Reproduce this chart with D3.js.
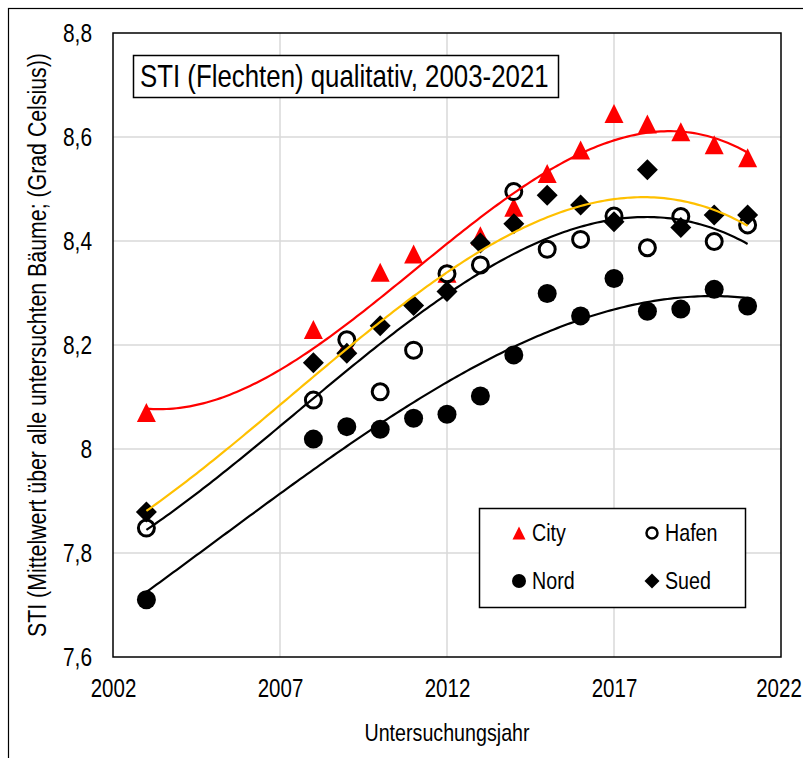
<!DOCTYPE html>
<html>
<head>
<meta charset="utf-8">
<script src="https://cdn.jsdelivr.net/npm/d3@7"></script>
<style>
    body { margin: 0; background: #fff; }
    text { font-family: "Liberation Sans", Arial, sans-serif; fill: #000; }
</style>
</head>
<body>
<script>
// STI (Flechten) qualitativ, 2003-2021 - scatter with polynomial trend lines

var years = [2003, 2008, 2009, 2010, 2011, 2012, 2013, 2014, 2015, 2016, 2017, 2018, 2019, 2020, 2021];
var city  = [8.07, 8.23, 8.20, 8.34, 8.375, 8.338, 8.41, 8.465, 8.53, 8.575, 8.645, 8.625, 8.61, 8.585, 8.56];
var hafen = [7.848, 8.094, 8.21, 8.11, 8.19, 8.337, 8.354, 8.495, 8.384, 8.403, 8.448, 8.387, 8.447, 8.399, 8.431];
var nord  = [7.71, 8.019, 8.043, 8.038, 8.059, 8.067, 8.102, 8.181, 8.299, 8.256, 8.328, 8.265, 8.269, 8.307, 8.275];
var sued  = [7.879, 8.166, 8.184, 8.237, 8.276, 8.303, 8.396, 8.433, 8.488, 8.469, 8.437, 8.537, 8.426, 8.45, 8.45];

var xTicks = [2002, 2007, 2012, 2017, 2022];
var yTicks = [7.6, 7.8, 8.0, 8.2, 8.4, 8.6, 8.8];
var yTickLabels = ["7,6", "7,8", "8", "8,2", "8,4", "8,6", "8,8"];

var title = "STI (Flechten) qualitativ, 2003-2021";
var xTitle = "Untersuchungsjahr";
var yTitle = "STI (Mittelwert über alle untersuchten Bäume; (Grad Celsius))";

// narrow look (like Arial Narrow) by squeezing the text horizontally
var narrow = 0.82;

// least squares polynomial (order 3), like the excel trend line
function polyFit(xs, ys, order) {
    var n = order + 1;
    var A = [], b = [];
    for (var i = 0; i < n; i++) {
        A.push(new Array(n).fill(0));
        b.push(0);
    }
    xs.forEach(function (x, k) {
        var t = (x - 2012) / 10;
        for (var i = 0; i < n; i++) {
            for (var j = 0; j < n; j++) A[i][j] += Math.pow(t, i + j);
            b[i] += ys[k] * Math.pow(t, i);
        }
    });
    // gaussian elimination
    for (var c = 0; c < n; c++) {
        var p = c;
        for (var r = c + 1; r < n; r++) if (Math.abs(A[r][c]) > Math.abs(A[p][c])) p = r;
        var tmp = A[c]; A[c] = A[p]; A[p] = tmp;
        var tb = b[c]; b[c] = b[p]; b[p] = tb;
        for (var r2 = c + 1; r2 < n; r2++) {
            var f = A[r2][c] / A[c][c];
            for (var j2 = c; j2 < n; j2++) A[r2][j2] -= f * A[c][j2];
            b[r2] -= f * b[c];
        }
    }
    var coef = new Array(n).fill(0);
    for (var r3 = n - 1; r3 >= 0; r3--) {
        var s = b[r3];
        for (var j3 = r3 + 1; j3 < n; j3++) s -= A[r3][j3] * coef[j3];
        coef[r3] = s / A[r3][r3];
    }
    return function (x) {
        var t = (x - 2012) / 10, v = 0;
        for (var i = 0; i < n; i++) v += coef[i] * Math.pow(t, i);
        return v;
    };
}

function addText(parent, x, y, size, str, anchor, rotate) {
    return parent.append("text")
        .attr("transform", "translate(" + x + "," + y + ")" + (rotate ? " rotate(" + rotate + ")" : "") + " scale(" + narrow + ",1)")
        .attr("text-anchor", anchor || "start")
        .attr("font-size", size + "px")
        .text(str);
}

function init() {
    var w = 803;
    var h = 758;
    var left = 113, right = 781, top = 33, bottom = 657;

    var svg = d3.select("body")
                .append("svg")
                .attr("width", w)
                .attr("height", h);

    // outer chart border (cut off at right and bottom)
    svg.append("rect")
        .attr("x", 8.5).attr("y", 8.5)
        .attr("width", 900).attr("height", 900)
        .attr("fill", "none")
        .attr("stroke", "#000")
        .attr("stroke-width", 1.2);

    var xScale = d3.scaleLinear().domain([2002, 2022]).range([left, right]);
    var yScale = d3.scaleLinear().domain([7.6, 8.8]).range([bottom, top]);

    // gridlines
    svg.append("g")
        .selectAll("line")
        .data(yTicks.slice(1, -1))
        .enter()
        .append("line")
        .attr("x1", left).attr("x2", right)
        .attr("y1", function (d) { return yScale(d); })
        .attr("y2", function (d) { return yScale(d); })
        .attr("stroke", "#d9d9d9")
        .attr("stroke-width", 1.5);

    svg.append("g")
        .selectAll("line")
        .data(xTicks.slice(1, -1))
        .enter()
        .append("line")
        .attr("y1", top).attr("y2", bottom)
        .attr("x1", function (d) { return xScale(d); })
        .attr("x2", function (d) { return xScale(d); })
        .attr("stroke", "#d9d9d9")
        .attr("stroke-width", 1.5);

    // axes
    var xAxis = d3.axisBottom(xScale)
                  .tickValues(xTicks)
                  .tickSize(0)
                  .tickPadding(22)
                  .tickFormat(function (d) { return d; });

    var gx = svg.append("g")
        .attr("transform", "translate(0," + bottom + ")")
        .call(xAxis);
    gx.select(".domain").remove();
    gx.selectAll("text")
        .attr("font-size", "25px")
        .attr("transform", "scale(" + narrow + ",1)")
        .style("font-family", null);
    // keep the last label inside the picture
    gx.selectAll("text")
        .filter(function (d) { return d === 2022; })
        .attr("dx", -2.5 / narrow);

    var yAxis = d3.axisLeft(yScale)
                  .tickValues(yTicks)
                  .tickSize(0)
                  .tickPadding(21)
                  .tickFormat(function (d, i) { return yTickLabels[i]; });

    var gy = svg.append("g")
        .attr("transform", "translate(" + left + ",0)")
        .call(yAxis);
    gy.select(".domain").remove();
    gy.selectAll("text")
        .attr("font-size", "25.5px")
        .attr("x", -21 / narrow)
        .attr("transform", "scale(" + narrow + ",1)")
        .style("font-family", null);

    // plot frame
    svg.append("rect")
        .attr("x", left).attr("y", top)
        .attr("width", right - left).attr("height", bottom - top)
        .attr("fill", "none")
        .attr("stroke", "#000")
        .attr("stroke-width", 1.5);

    // marker shapes
    function triangle(s) {
        return "M0," + (-s / 2) + "L" + (s / 2) + "," + (s / 2) + "L" + (-s / 2) + "," + (s / 2) + "Z";
    }
    function diamond(s) {
        return "M0," + (-s / 2) + "L" + (s / 2) + ",0L0," + (s / 2) + "L" + (-s / 2) + ",0Z";
    }

    var pts = function (vals) {
        return vals.map(function (v, i) { return [years[i], v]; });
    };

    // City
    svg.append("g").selectAll("path")
        .data(pts(city))
        .enter()
        .append("path")
        .attr("d", triangle(19))
        .attr("transform", function (d) { return "translate(" + xScale(d[0]) + "," + yScale(d[1]) + ")"; })
        .attr("fill", "#ff0000");

    // Hafen
    svg.append("g").selectAll("circle")
        .data(pts(hafen))
        .enter()
        .append("circle")
        .attr("cx", function (d) { return xScale(d[0]); })
        .attr("cy", function (d) { return yScale(d[1]); })
        .attr("r", 8)
        .attr("fill", "#fff")
        .attr("stroke", "#000")
        .attr("stroke-width", 3);

    // Nord
    svg.append("g").selectAll("circle")
        .data(pts(nord))
        .enter()
        .append("circle")
        .attr("cx", function (d) { return xScale(d[0]); })
        .attr("cy", function (d) { return yScale(d[1]); })
        .attr("r", 9.5)
        .attr("fill", "#000");

    // Sued
    svg.append("g").selectAll("path")
        .data(pts(sued))
        .enter()
        .append("path")
        .attr("d", diamond(21))
        .attr("transform", function (d) { return "translate(" + xScale(d[0]) + "," + yScale(d[1]) + ")"; })
        .attr("fill", "#000");

    // trend lines
    var trends = [
        { vals: city, color: "#ff0000" },
        { vals: hafen, color: "#000000" },
        { vals: nord, color: "#000000" },
        { vals: sued, color: "#ffc000" }
    ];
    var xs = d3.range(2003, 2021.001, 0.1);
    var line = d3.line()
                 .x(function (d) { return xScale(d[0]); })
                 .y(function (d) { return yScale(d[1]); });

    trends.forEach(function (t) {
        var f = polyFit(years, t.vals, 3);
        svg.append("path")
            .datum(xs.map(function (x) { return [x, f(x)]; }))
            .attr("d", line)
            .attr("fill", "none")
            .attr("stroke", t.color)
            .attr("stroke-width", 2.2);
    });

    // title box
    svg.append("rect")
        .attr("x", 133.5).attr("y", 55.5)
        .attr("width", 425).attr("height", 42)
        .attr("fill", "#fff")
        .attr("stroke", "#000")
        .attr("stroke-width", 1.5);
    addText(svg, 140, 87, 31.5, title);

    // legend
    svg.append("rect")
        .attr("x", 479.5).attr("y", 508.5)
        .attr("width", 266).attr("height", 99)
        .attr("fill", "#fff")
        .attr("stroke", "#000")
        .attr("stroke-width", 1.5);

    var lg = svg.append("g");
    lg.append("path").attr("d", triangle(13)).attr("transform", "translate(519,533)").attr("fill", "#ff0000");
    addText(lg, 532, 541, 24, "City");
    lg.append("circle").attr("cx", 652).attr("cy", 533).attr("r", 5.5)
        .attr("fill", "#fff").attr("stroke", "#000").attr("stroke-width", 2.5);
    addText(lg, 665, 541, 24, "Hafen");
    lg.append("circle").attr("cx", 519).attr("cy", 581).attr("r", 7).attr("fill", "#000");
    addText(lg, 532, 589, 24, "Nord");
    lg.append("path").attr("d", diamond(15)).attr("transform", "translate(652,581)").attr("fill", "#000");
    addText(lg, 665, 589, 24, "Sued");

    // axis titles
    addText(svg, (left + right) / 2, 741, 24, xTitle, "middle");
    addText(svg, 46, (top + bottom) / 2, 26, yTitle, "middle", -90);
}

window.onload = init;
</script>
</body>
</html>
